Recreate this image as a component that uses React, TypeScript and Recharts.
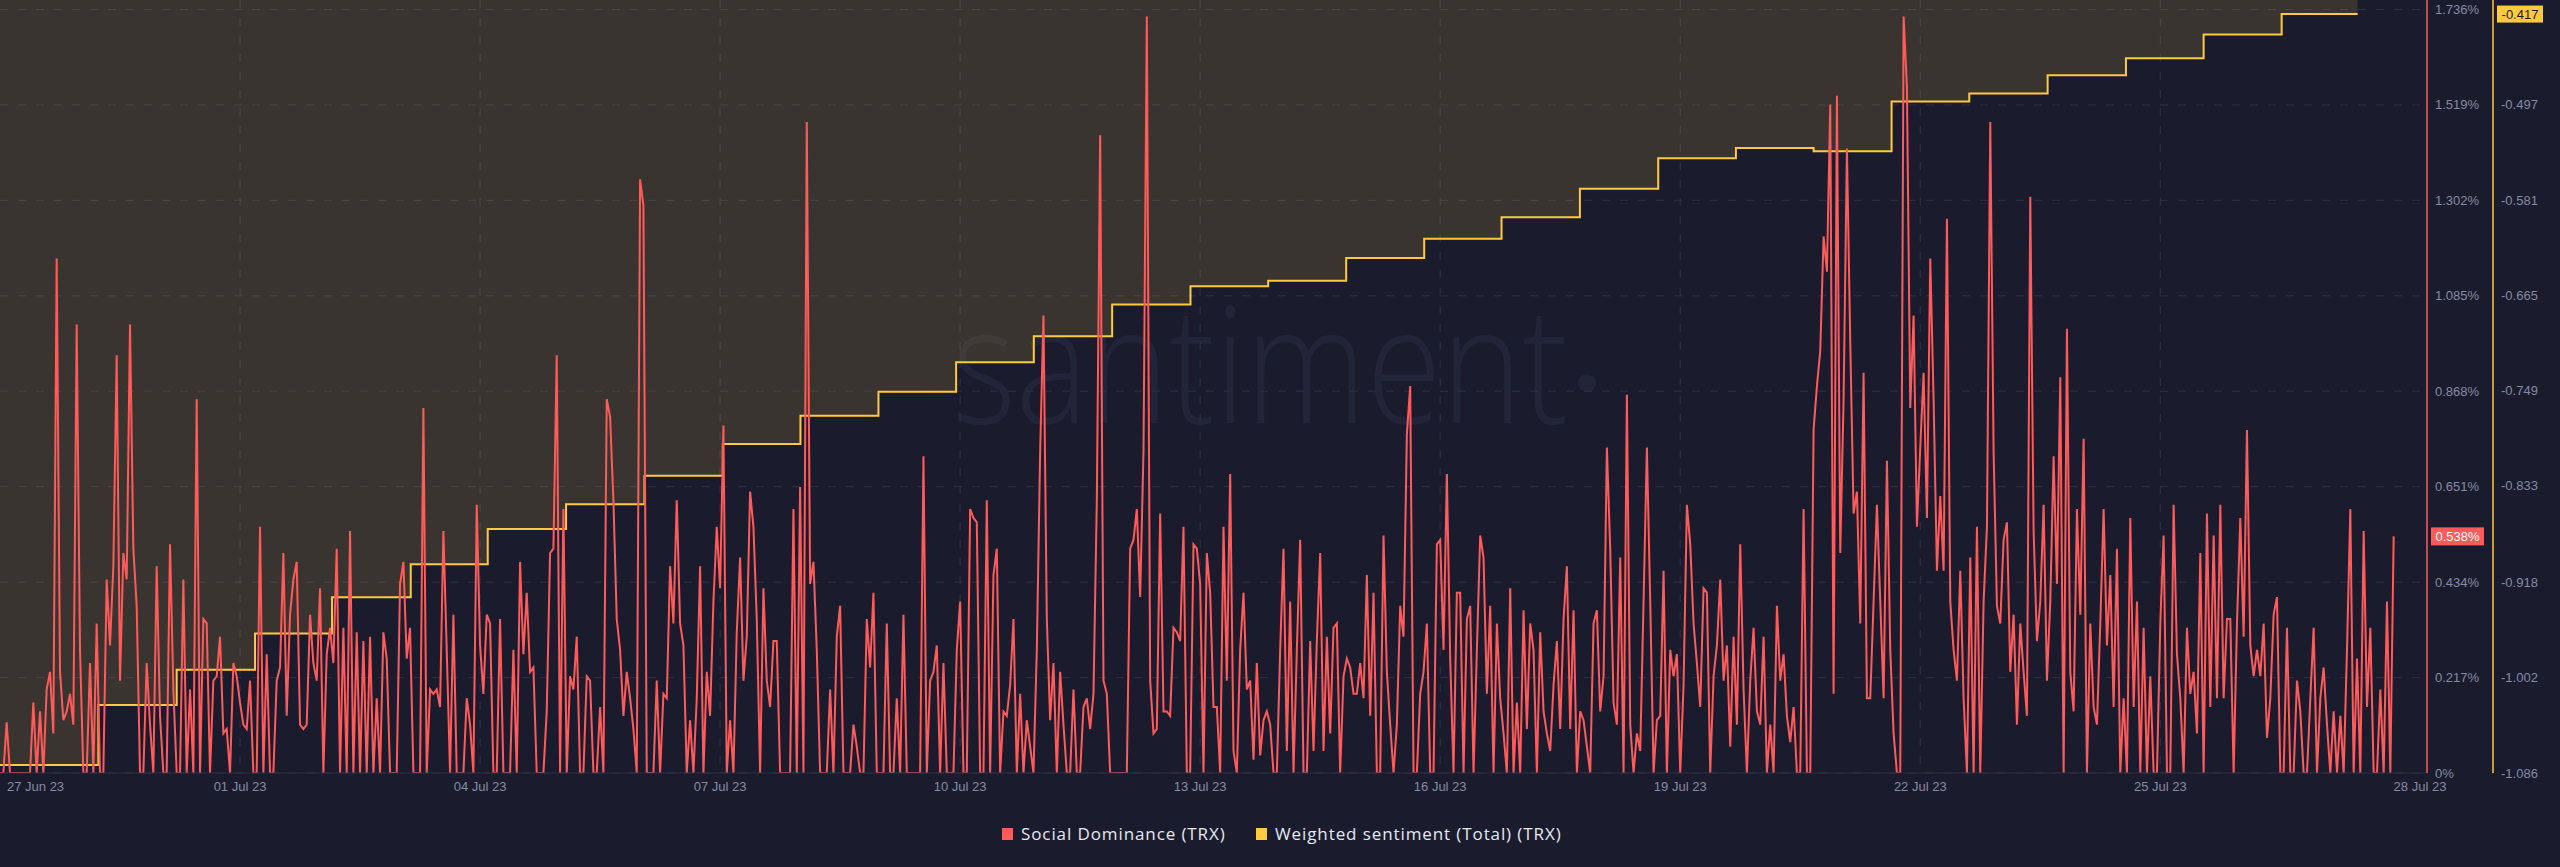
import React from 'react'
import {
  ComposedChart, Line, Area, XAxis, YAxis, CartesianGrid, ReferenceDot,
} from 'recharts'

const BG = '#1a1c2e'
const RED = '#ff5b5b'
const YELLOW = '#ffc940'
const TICK_COLOR = '#868aa3'
const GRID_COLOR = '#2e3148'
const AXIS_FONT = '"Liberation Sans", Arial, sans-serif'

// Social Dominance (TRX), hourly, in % — starts 28 Jun 00:00
const SD_JUN28_JUL03 = [
  0, 0, 0.115, 0, 0, 0, 0, 0, 0, 0,
  0.16, 0, 0.14, 0, 0.19, 0.23, 0.09, 1.17, 0.23, 0.12,
  0.14, 0.18, 0.11, 1.02, 0.28, 0, 0, 0.25, 0, 0.34,
  0, 0, 0.44, 0.29, 0.47, 0.95, 0.21, 0.5, 0.44, 1.02,
  0.51, 0.38, 0, 0, 0.25, 0.11, 0, 0.47, 0.13, 0,
  0, 0.52, 0.19, 0, 0, 0.44, 0, 0.19, 0, 0.85,
  0, 0.35, 0.34, 0, 0.21, 0.22, 0.31, 0.09, 0.1, 0,
  0.25, 0.22, 0.16, 0.11, 0.1, 0.21, 0, 0, 0.56, 0,
  0.27, 0, 0, 0.21, 0.24, 0.5, 0.13, 0.36, 0.44, 0.48,
  0.11, 0.1, 0.11, 0.36, 0.25, 0.21, 0.42, 0, 0.27, 0.33,
  0.25, 0.51, 0, 0.33, 0, 0.55, 0, 0.32, 0, 0.3,
  0, 0.31, 0, 0.17, 0, 0.32, 0.26, 0, 0, 0,
  0.43, 0.48, 0.26, 0.33, 0, 0, 0, 0.83, 0, 0.19,
  0.18, 0.19, 0.15, 0.55, 0.28, 0, 0.36, 0, 0, 0,
  0.17, 0.11, 0, 0.61, 0.29, 0.18,
]
const SD_JUL04_JUL09 = [
  0.36, 0.34, 0, 0, 0.35, 0, 0, 0, 0.28, 0,
  0.48, 0.27, 0.41, 0.23, 0.24, 0, 0, 0, 0.14, 0.5,
  0.51, 0.95, 0, 0.6, 0, 0.22, 0.19, 0.31, 0, 0,
  0.22, 0.21, 0, 0, 0.15, 0, 0.85, 0.81, 0.62, 0.35,
  0.28, 0.13, 0.23, 0.17, 0.1, 0, 1.35, 1.29, 0, 0,
  0, 0.21, 0, 0.18, 0.17, 0.47, 0.34, 0.62, 0.34, 0.29,
  0, 0.12, 0, 0.17, 0.47, 0, 0.23, 0.13, 0.39, 0.56,
  0.42, 0.79, 0, 0.12, 0, 0.32, 0.49, 0.21, 0.31, 0.64,
  0.56, 0.35, 0, 0.42, 0.21, 0.15, 0.3, 0.3, 0, 0,
  0, 0, 0.6, 0, 0.65, 0, 1.48, 0.43, 0.48,
  0.28, 0, 0, 0, 0.19, 0, 0.31, 0.38, 0, 0,
  0, 0.11, 0.06, 0, 0, 0.35, 0.24, 0.41, 0, 0,
  0, 0.34, 0, 0, 0.17, 0, 0.36, 0, 0,
  0, 0, 0, 0.72, 0, 0.21, 0.23, 0.29, 0, 0.25,
  0, 0, 0, 0.28, 0.39, 0, 0, 0.6,
]
const SD_JUL10_JUL15 = [
  0.58, 0.57, 0, 0, 0.62, 0, 0.45, 0.51, 0, 0.14,
  0.13, 0.2, 0.35, 0, 0.18, 0, 0.12, 0.06, 0,
  0.28, 0.73, 1.04, 0.35, 0.12, 0.25, 0, 0.23, 0.11, 0,
  0, 0.19, 0, 0, 0.15, 0.17, 0.1, 0.18, 0.62, 1.45,
  0.21, 0.18, 0, 0, 0, 0, 0, 0, 0.51,
  0.53, 0.6, 0.4, 0.73, 1.72, 0.21, 0.09, 0.1, 0.59, 0.14,
  0.14, 0.13, 0.33, 0.32, 0.3, 0.56, 0, 0, 0.52, 0.51,
  0.43, 0, 0.5, 0.41, 0.15, 0.15, 0, 0.56, 0.21, 0.68,
  0.05, 0, 0.28, 0.41, 0.19, 0.21, 0.03, 0.25, 0.04, 0.12,
  0.14, 0.11, 0, 0, 0.28, 0.51, 0.05, 0.39, 0,
  0.28, 0.53, 0, 0, 0.3, 0.05, 0.3, 0.5, 0.05, 0.31,
  0.09, 0.33, 0.34, 0, 0.22, 0.26, 0.24, 0.18, 0.18, 0.25,
  0.17, 0.45, 0.13, 0.41, 0, 0, 0.54, 0.23, 0.11, 0,
  0.11, 0.38, 0.31, 0.77, 0.88, 0, 0, 0.18, 0.23, 0.34,
  0, 0, 0.52, 0.53, 0.28, 0.68, 0.26, 0, 0.41,
]
const SD_JUL16_JUL21 = [
  0.41, 0, 0.35, 0.38, 0, 0.28, 0.54, 0.49, 0.18, 0.38,
  0, 0.34, 0.17, 0.09, 0, 0.42, 0, 0.16, 0, 0.37,
  0.1, 0.34, 0.28, 0, 0.32, 0.14, 0.09, 0.05, 0.2,
  0.3, 0.1, 0.35, 0.47, 0.1, 0.37, 0, 0.14, 0.12, 0.06,
  0, 0.34, 0.37, 0.14, 0.22, 0.74, 0.51, 0.16, 0.11, 0.49,
  0, 0.86, 0.11, 0, 0.09, 0.05, 0.39, 0.74, 0.39,
  0, 0.12, 0.13, 0.46, 0, 0.28, 0.22, 0.27, 0, 0.2,
  0.61, 0.52, 0.34, 0.25, 0.15, 0.42, 0.41, 0, 0.22, 0.29,
  0.44, 0.21, 0.29, 0.06, 0.31, 0.11, 0.52, 0.19, 0, 0.21,
  0.33, 0.14, 0.11, 0.31, 0, 0.11, 0, 0.38, 0.21, 0.27,
  0.13, 0.07, 0.15, 0, 0, 0.6, 0, 0, 0.78, 0.88,
  0.96, 1.22, 1.14, 1.52, 0.18, 1.54, 0.5, 0.85, 1.42, 0.98,
  0.59, 0.64, 0.34, 0.91, 0.17, 0.17, 0.39, 0.61, 0.39, 0.17,
  0.71, 0.28, 0.09, 0, 0, 1.72, 1.56, 0.83, 1.04,
  0.56, 0.74, 0.91, 0.58, 1.17, 0.85, 0.46, 0.63, 0.46,
]
const SD_JUL22_JUL28 = [
  1.26, 0.39, 0.28, 0.21, 0.46, 0.17, 0, 0.49, 0, 0.56,
  0, 0.39, 0.56, 1.48, 0.73, 0.38, 0.34, 0.53, 0.57, 0.23,
  0.36, 0.11, 0.34, 0.23, 0.13, 1.31, 0.55, 0.3, 0.39, 0.61,
  0.21, 0.39, 0.72, 0.43, 0.9, 0, 1.01, 0.23, 0.14, 0.6,
  0.36, 0.76, 0, 0.34, 0.15, 0.11, 0.34, 0.6, 0.29, 0.45,
  0.15, 0.51, 0, 0.17, 0, 0.58, 0.15, 0.39, 0,
  0.33, 0, 0.22, 0, 0, 0.34, 0.54, 0, 0, 0.61,
  0.27, 0.17, 0, 0.33, 0.18, 0.23, 0.09, 0.5, 0, 0.59,
  0.15, 0.54, 0.17, 0.61, 0.17, 0.35, 0.35, 0, 0.34, 0.58,
  0.31, 0.78, 0.29, 0.22, 0.28, 0.22, 0.34, 0.08, 0.17, 0.36,
  0.4, 0, 0, 0.33, 0, 0, 0.21, 0.14,
  0, 0, 0.17, 0.33, 0, 0.17, 0.24, 0.11, 0, 0.14,
  0, 0.13, 0, 0.28, 0.6, 0, 0.26, 0, 0.55, 0.15,
  0.33, 0, 0, 0.19, 0, 0.39, 0, 0.538,
]

// Weighted sentiment (Total) (TRX): value changes once a day
const SENT_START_HOURS = [
  0, 29.5, 53, 76.5, 99.6, 123.2, 146.3, 169.8, 193.3, 216.8,
  240.1, 263.5, 286.8, 310.1, 333.6, 357.1, 380.4, 403.8, 427.2, 450.4,
  473.9, 497.4, 520.7, 544, 567.4, 590.7, 614.2, 637.7, 661, 684.4,
]
const SENT_VALUES = [
  -1.079, -1.026, -0.995, -0.963, -0.931, -0.902, -0.871, -0.849, -0.824, -0.796,
  -0.771, -0.75, -0.724, -0.701, -0.673, -0.657, -0.652, -0.632, -0.615, -0.596,
  -0.571, -0.544, -0.535, -0.538, -0.494, -0.487, -0.471, -0.456, -0.435, -0.417,
]
const SENT_END_HOUR = 707.2

const X_TICKS = [0, 72, 144, 216, 288, 360, 432, 504, 576, 648, 728]
const X_LABELS = [
  '27 Jun 23', '01 Jul 23', '04 Jul 23', '07 Jul 23', '10 Jul 23', '13 Jul 23',
  '16 Jul 23', '19 Jul 23', '22 Jul 23', '25 Jul 23', '28 Jul 23',
]
const X_GRID = [72, 144, 216, 288, 360, 432, 504, 576, 648]
const X_MAX = 728

const SD_TICKS = [0, 0.217, 0.434, 0.651, 0.868, 1.085, 1.302, 1.519, 1.736]
const SENT_TICKS = [-1.086, -1.002, -0.918, -0.833, -0.749, -0.665, -0.581, -0.497, -0.413]
// the drawing area runs a few px above the top tick
const SD_DOMAIN = [0, 1.7576]
const SENT_DOMAIN = [-1.086, -0.4046]

const SOCIAL_DOMINANCE = [
  ...SD_JUN28_JUL03, ...SD_JUL04_JUL09, ...SD_JUL10_JUL15, ...SD_JUL16_JUL21, ...SD_JUL22_JUL28,
]
const sdData = SOCIAL_DOMINANCE.map((v, h) => ({ h, sd: v }))
const sentData = SENT_START_HOURS.map((h, i) => ({ h, ws: SENT_VALUES[i] }))
  .concat({ h: SENT_END_HOUR, ws: SENT_VALUES[SENT_VALUES.length - 1] })

const LAST_SD = SOCIAL_DOMINANCE[SOCIAL_DOMINANCE.length - 1]
const LAST_SENT = SENT_VALUES[SENT_VALUES.length - 1]

const XTick = ({ x, y, payload }: any) => {
  const i = X_TICKS.indexOf(payload.value)
  const first = i === 0
  const last = i === X_TICKS.length - 1
  return (
    <text
      x={first ? x + 7 : last ? x - 7 : x}
      y={y}
      dy={10}
      textAnchor={first ? 'start' : 'middle'}
      fill={TICK_COLOR}
      fontSize={13}
      fontFamily={AXIS_FONT}
    >
      {X_LABELS[i]}
    </text>
  )
}

const SdTick = ({ x, y, payload }: any) => (
  <text x={x} y={y} dy={4.5} textAnchor="start" fill={TICK_COLOR} fontSize={13} fontFamily={AXIS_FONT}>
    {payload.value === 0 ? '0%' : `${payload.value.toFixed(3)}%`}
  </text>
)

const SentTick = ({ x, y, payload }: any) => {
  // the top label sits under the current-value badge
  if (payload.value === SENT_TICKS[SENT_TICKS.length - 1]) return <g />
  return (
    <text x={x} y={y} dy={4.5} textAnchor="start" fill={TICK_COLOR} fontSize={13} fontFamily={AXIS_FONT}>
      {payload.value.toFixed(3)}
    </text>
  )
}

const SdBadge = ({ cx, cy }: any) => (
  <g>
    <rect x={cx + 4} y={cy - 9} width={53} height={18} fill={RED} />
    <text x={cx + 30.5} y={cy + 4.5} textAnchor="middle" fill="#ffffff" fontSize={13} fontFamily={AXIS_FONT}>
      {`${LAST_SD.toFixed(3)}%`}
    </text>
  </g>
)

const SentBadge = ({ cx, cy }: any) => (
  <g>
    <rect x={cx + 70} y={cy - 8.5} width={46} height={17} fill={YELLOW} />
    <text x={cx + 93} y={cy + 4.5} textAnchor="middle" fill="#1a1c2e" fontSize={13} fontFamily={AXIS_FONT}>
      {LAST_SENT.toFixed(3)}
    </text>
  </g>
)

function LegendItem({ left, color, label }: { left: number; color: string; label: string }) {
  return (
    <div style={{ position: 'absolute', left, top: 822, display: 'flex', alignItems: 'center' }}>
      <div style={{ width: 11, height: 12, background: color }} />
      <span
        style={{
          marginLeft: 8, color: '#e6e8f0', fontSize: 17, letterSpacing: 0.9,
          fontFamily: '"Open Sans", sans-serif',
        }}
      >
        {label}
      </span>
    </div>
  )
}

export default function App() {
  return (
    <div style={{ position: 'absolute', left: 0, top: 0, width: 2560, height: 867, background: BG, overflow: 'hidden' }}>
      {/* watermark */}
      <svg width={2560} height={867} style={{ position: 'absolute', left: 0, top: 0 }}>
        <text
          x={952}
          y={423}
          fontSize={162}
          fontWeight={300}
          fontFamily='"Open Sans", sans-serif'
          textLength={616}
          lengthAdjust="spacingAndGlyphs"
          fill="#22253a"
        >
          santiment
        </text>
        <circle cx={1587} cy={383} r={9} fill="#22253a" />
      </svg>

      <div style={{ position: 'absolute', left: 0, top: 0 }}>
        <ComposedChart width={2560} height={867} margin={{ top: 0, right: 0, bottom: 64, left: 0 }}>
          <CartesianGrid
            yAxisId="sd"
            stroke={GRID_COLOR}
            strokeDasharray="8 10"
            verticalValues={X_GRID}
            horizontalValues={SD_TICKS}
          />
          <XAxis
            type="number"
            dataKey="h"
            domain={[0, X_MAX]}
            ticks={X_TICKS}
            interval={0}
            allowDataOverflow
            height={30}
            axisLine={{ stroke: '#2a2d44' }}
            tickLine={false}
            tick={<XTick />}
          />
          <YAxis
            yAxisId="sd"
            orientation="right"
            type="number"
            domain={SD_DOMAIN}
            ticks={SD_TICKS}
            interval={0}
            allowDataOverflow
            width={66}
            axisLine={{ stroke: RED, strokeWidth: 1.5 }}
            tickLine={false}
            tick={<SdTick />}
          />
          <YAxis
            yAxisId="ws"
            orientation="right"
            type="number"
            domain={SENT_DOMAIN}
            ticks={SENT_TICKS}
            interval={0}
            allowDataOverflow
            width={67}
            axisLine={{ stroke: YELLOW, strokeWidth: 1.5 }}
            tickLine={false}
            tick={<SentTick />}
          />
          <Area
            yAxisId="ws"
            data={sentData}
            dataKey="ws"
            type="stepAfter"
            baseValue="dataMax"
            stroke={YELLOW}
            strokeWidth={2}
            fill={YELLOW}
            fillOpacity={0.14}
            dot={false}
            activeDot={false}
            isAnimationActive={false}
          />
          <Line
            yAxisId="sd"
            data={sdData}
            dataKey="sd"
            type="linear"
            stroke={RED}
            strokeWidth={2}
            dot={false}
            activeDot={false}
            isAnimationActive={false}
          />
          <ReferenceDot yAxisId="sd" x={X_MAX} y={LAST_SD} ifOverflow="visible" shape={<SdBadge />} />
          <ReferenceDot yAxisId="ws" x={X_MAX} y={LAST_SENT} ifOverflow="visible" shape={<SentBadge />} />
        </ComposedChart>
      </div>

      <LegendItem left={1002} color={RED} label="Social Dominance (TRX)" />
      <LegendItem left={1256} color={YELLOW} label="Weighted sentiment (Total) (TRX)" />
    </div>
  )
}
